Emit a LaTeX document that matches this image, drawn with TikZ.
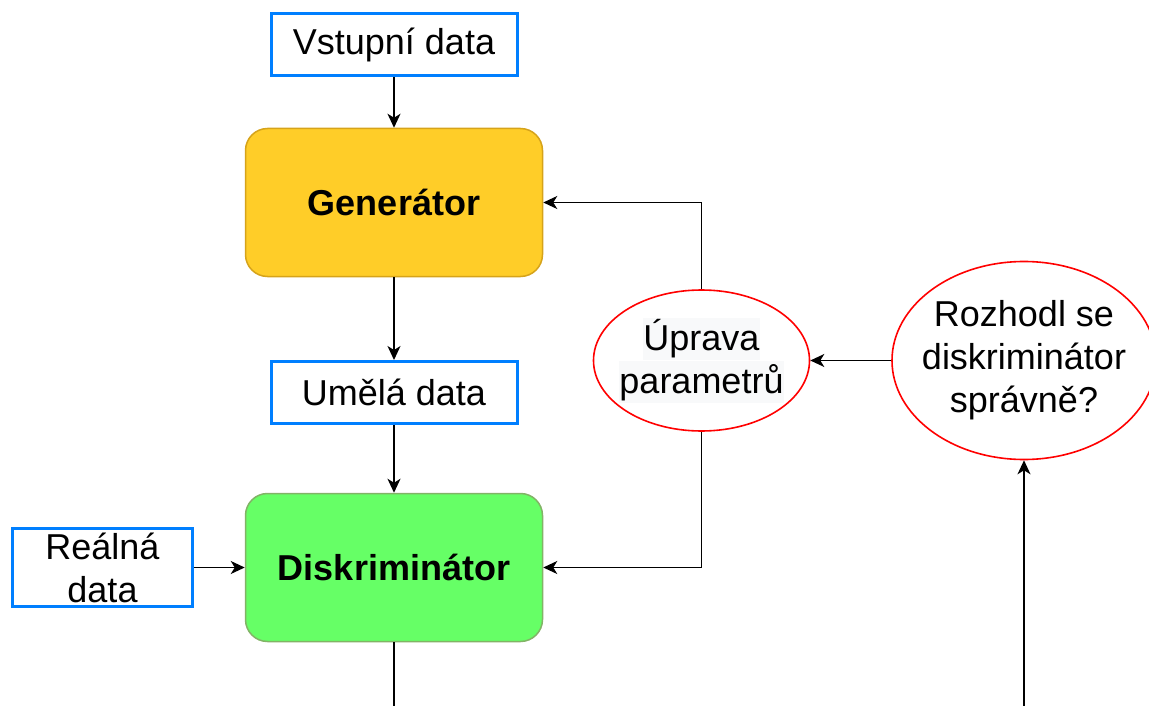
\documentclass[tikz,border=0pt]{standalone}
\usepackage{fontspec}
\setmainfont{Liberation Sans}
\usetikzlibrary{arrows.meta,shapes.geometric}
\definecolor{boxblue}{HTML}{007FFF}
\definecolor{genfill}{HTML}{FFCD28}
\definecolor{genline}{HTML}{D6A31A}
\definecolor{disfill}{HTML}{66FF66}
\definecolor{disline}{HTML}{82B366}
\definecolor{hlbg}{HTML}{F8F9FA}
\setlength\fboxsep{0pt}
\newcommand\hltext[1]{\colorbox{hlbg}{\rule[-10pt]{0pt}{42pt}#1}}
\begin{document}
\begin{tikzpicture}[x=1pt,y=-1pt,
  every node/.style={font=\fontsize{36}{43}\selectfont, inner sep=0pt, align=center},
  databox/.style={draw=boxblue, line width=3pt, fill=white},
  core/.style={rounded corners=22pt, line width=1.5pt, minimum width=297pt, minimum height=148pt,
    font=\fontsize{36}{43}\selectfont\bfseries},
  decision/.style={ellipse, draw=red, line width=1.6pt, fill=white},
  arr/.style={line width=1.6pt, -{Stealth[length=14pt,width=13pt,inset=4pt]}},
  link/.style={line width=1.6pt}]
\clip (0,0) rectangle (1149,706);

% data boxes
\node[databox, minimum width=246pt, minimum height=62pt] (in) at (394,44.5) {Vstupní data};
\node[databox, minimum width=246pt, minimum height=62pt] (fake) at (394,392.5) {Umělá data};
\node[databox, minimum width=180pt, minimum height=78pt] (real) at (102.5,567.5) {Reálná\\data};

% generator and discriminator
\node[core, fill=genfill, draw=genline] (gen) at (394,202.5) {Generátor};
\node[core, fill=disfill, draw=disline] (dis) at (394,567.5) {Diskriminátor};

% ellipses, with their labels set on top
\node[decision, minimum width=216pt, minimum height=141pt] (upd) at (701.5,360.5) {};
\node[font=\fontsize{36}{37}\selectfont] (updtext) at (upd.center) {\hltext{Úprava}\\\hltext{parametrů}};
\node[decision, minimum width=264pt, minimum height=198pt] (ask) at (1024,360.5) {};
\node (asktext) at (ask.center) {Rozhodl se\\diskriminátor\\správně?};

% free ends at the lower edge
\coordinate (disout) at (394,720);
\coordinate (askin) at (1024,720);

% connectors
\draw[arr] (in) -- (gen);
\draw[arr] (gen) -- (fake);
\draw[arr] (fake) -- (dis);
\draw[arr] (real) -- (dis);
\draw[arr] (upd.north) |- (gen.east);
\draw[arr] (upd.south) |- (dis.east);
\draw[arr] (ask.west) -- (upd.east);
\draw[link] (dis.south) -- (disout);
\draw[arr] (askin) -- (ask.south);
\end{tikzpicture}
\end{document}
